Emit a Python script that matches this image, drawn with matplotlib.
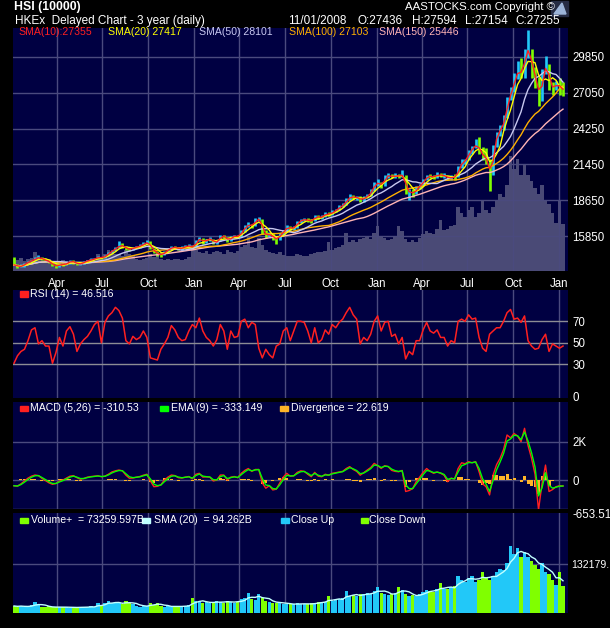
import numpy as np
import pandas as pd
import matplotlib
matplotlib.use('Agg')
import matplotlib.pyplot as plt
import matplotlib.dates as mdates
from matplotlib.patches import Rectangle, Polygon

plt.rcParams['font.family'] = ['Liberation Sans', 'DejaVu Sans']

# weekly samples of the 3 year daily chart (week ending Friday)
weeks = pd.date_range('2005-01-07', '2008-01-11', freq='W-FRI')

close = [13600, 13450, 13500, 13700, 13850, 13950, 14100, 14200, 14000, 13950, 13800, 13550,
         13500, 13650, 13600, 13750, 13900, 13800, 13650, 13700, 13850, 13950, 14000, 14100,
         14200, 14150, 14300, 14550, 14750, 14900, 15150, 15050, 14850, 14800, 14950, 15000,
         15100, 15250, 15400, 14900, 14600, 14450, 14350, 14650, 14800, 15000, 14950, 14850,
         14950, 15050, 15100, 14900,
         15500, 15650, 15350, 15600, 15650, 15300, 15450, 15900, 15800, 15450, 15800, 15850,
         15800, 16250, 16600, 16750, 16650, 17150, 17200, 16150, 15850, 16050, 15650, 15600,
         16000, 16250, 16600, 16400, 16550, 16950, 17100, 17150, 17050, 17000, 17450, 17250,
         17400, 17600, 17550, 17750, 17900, 18150, 18300, 18700, 18950, 18850, 18900, 18600,
         18900, 18950, 19400, 19950,
         20000, 19800, 20500, 20600, 20450, 20600, 20500, 20700, 19300, 19350, 19100, 19650,
         19800, 20200, 20550, 20500, 20450, 20700, 20550, 20600, 20300, 20500, 20400, 21200,
         21700, 21750, 22500, 22700, 23100, 22400, 22100, 21800, 20400, 22900, 23950, 24200,
         25000, 26500, 27150, 28200, 28900, 28400, 30300, 30400, 28800, 28100, 26500, 28600,
         29300, 27600, 27400, 27800, 27400, 27255]

high = [14250, 13700, 13650, 13780, 13900, 14000, 14180, 14350, 14250, 14100, 14000, 13820,
        13650, 13720, 13750, 13800, 13950, 13950, 13850, 13780, 13900, 14000, 14100, 14150,
        14300, 14250, 14350, 14600, 14800, 15000, 15500, 15300, 15100, 14950, 15000, 15100,
        15200, 15350, 15550, 15450, 14950, 14700, 14500, 14700, 14900, 15100, 15100, 15000,
        15050, 15150, 15200, 15100,
        15550, 15750, 15700, 15650, 15800, 15650, 15550, 15950, 15950, 15800, 15850, 15950,
        15900, 16350, 16700, 16950, 16800, 17250, 17350, 17200, 16300, 16200, 16100, 15750,
        16100, 16350, 16700, 16650, 16650, 17000, 17200, 17300, 17250, 17150, 17500, 17500,
        17500, 17700, 17700, 17850, 18000, 18250, 18400, 18800, 19100, 19050, 19000, 18950,
        19000, 19100, 19500, 20050,
        20300, 20100, 20600, 20800, 20700, 20750, 20700, 21000, 20600, 19500, 19500, 19750,
        19900, 20300, 20650, 20700, 20600, 20850, 20800, 20750, 20650, 20600, 20700, 21300,
        21900, 21900, 22600, 22900, 23400, 23600, 22800, 22700, 21900, 23000, 24000, 24500,
        25300, 26700, 27500, 28600, 29500, 29800, 30500, 31950, 30500, 29100, 28300, 28900,
        29900, 29300, 27900, 28000, 28200, 27900]

low = [13550, 13350, 13400, 13450, 13650, 13800, 13900, 14050, 13950, 13850, 13750, 13500,
       13350, 13450, 13500, 13550, 13700, 13700, 13600, 13600, 13650, 13800, 13900, 13950,
       14050, 14050, 14100, 14280, 14500, 14700, 14900, 14950, 14750, 14700, 14750, 14900,
       14950, 15050, 15200, 14850, 14500, 14300, 14200, 14350, 14600, 14800, 14850, 14750,
       14800, 14900, 14950, 14850,
       14900, 15450, 15250, 15300, 15500, 15250, 15250, 15450, 15700, 15400, 15450, 15700,
       15700, 15800, 16200, 16550, 16500, 16650, 17000, 16000, 15700, 15750, 15550, 15200,
       15550, 15950, 16250, 16300, 16300, 16500, 16900, 17000, 16950, 16900, 17000, 17150,
       17200, 17350, 17450, 17500, 17700, 17900, 18100, 18300, 18700, 18750, 18700, 18500,
       18550, 18800, 18950, 19400,
       19800, 19600, 19800, 20400, 20350, 20400, 20350, 20500, 19100, 18700, 18900, 19150,
       19550, 19800, 20200, 20400, 20300, 20400, 20450, 20400, 20200, 20200, 20200, 20450,
       21200, 21500, 21800, 22300, 22700, 22300, 21800, 21500, 19400, 20600, 22800, 23700,
       24100, 25100, 26500, 27100, 28100, 28200, 28200, 29800, 28200, 27400, 26000, 26400,
       28500, 27300, 26900, 27300, 26900, 26800]

rsi = [31, 38, 42, 44, 52, 62, 64, 49, 52, 47, 47, 31, 41, 55, 47, 61, 65, 58, 42, 49,
       53, 56, 61, 67, 70, 50, 69, 75, 78, 83, 80, 73, 52, 49, 56, 53, 55, 61, 55, 36,
       35, 34, 44, 49, 55, 66, 62, 55, 52, 53, 61, 67,
       64, 73, 61, 55, 52, 47, 53, 67, 61, 44, 61, 55, 56, 70, 72, 64, 69, 67, 45, 36,
       44, 39, 36, 47, 49, 61, 64, 52, 61, 70, 70, 69, 61, 50, 64, 50, 53, 62, 58, 67,
       64, 69, 72, 78, 83, 76, 72, 49, 55, 52, 58, 70, 75, 61,
       69, 70, 56, 58, 49, 55, 35, 42, 39, 52, 52, 62, 69, 61, 59, 62, 55, 55, 47, 52,
       50, 70, 72, 70, 76, 72, 73, 55, 45, 42, 58, 61, 64, 64, 70, 78, 81, 72, 73, 69,
       75, 52, 47, 44, 45, 53, 58, 42, 49, 47, 45, 47]

macd = [-300, -320, -200, -50, 100, 200, 260, 230, 80, -30, -150,
        -226, -180, -60, 0, 100, 200, 226, 120, 40, 80, 150, 180, 200, 220,
        170, 200, 300, 420, 480, 520, 480, 250, 90, 100, 150, 180, 250, 300, -50,
        -350, -330, -250, 0, 150, 260, 230, 120, 100, 150, 180, 60, 300,
        350, 150, 160, 150, -50, 0, 260, 260, 0, 150, 180, 120, 350, 500,
        600, 450, 550, 550, -150, -430, -300, -520, -480, -150, 150, 350, 200, 220,
        400, 480, 450, 300, 170, 400, 200, 170, 300, 250, 350, 380, 420, 450,
        600, 700, 550, 450, 250, 380, 520, 650, 870, 750, 600, 750, 700, 500,
        450, 430, 500, -600, -550, -450, -90, 150, 400, 600, 450, 350, 420, 350,
        250, -90, 100, 50, 600, 900, 850, 960, 900, 960, 430, -200, -350, -780,
        260, 800, 1130, 1600, 2350, 2200, 2430, 2300, 2000, 2700, 1800, 1130, 300, -1560,
        -200, 780, -600, -500, -350, -300, -310.53]

volume = [19000, 17000, 20000, 16000, 18000, 21000, 30000, 22000, 17000, 16000, 18000, 15000,
          15000, 16000, 17000, 15000, 14000, 16000, 15000, 16000, 15000, 17000, 18000, 16000,
          27000, 20000, 26000, 33000, 28000, 26000, 27000, 24000, 33000, 27000, 25000,
          18000, 17000, 19000, 20000, 26000, 22000, 27000, 19000, 17000,
          18000, 17000, 19000, 18000, 17000, 19000, 22000, 40000,
          33000, 30000, 28000, 31000, 26000, 29000, 32000, 30000, 27000, 33000, 30000, 28000, 31000,
          37000, 40000, 55000, 38000, 36000, 52000, 40000, 33000, 30000, 28000, 27000, 29000,
          25000, 24000, 23000, 24000, 26000, 25000, 24000, 23000, 26000,
          28000, 30000, 29000, 31000, 45000, 33000, 36000, 38000, 40000,
          60000, 45000, 48000, 46000, 50000, 52000, 55000, 50000, 60000, 70000, 55000,
          52000, 48000, 50000, 55000, 70000, 62000, 50000, 46000, 48000, 45000, 52000,
          58000, 62000, 60000, 58000, 66000, 80000,
          64000, 66000, 70000, 72000, 100000, 90000, 85000,
          95000, 100000, 85000, 90000, 110000, 95000,
          90000, 100000, 110000, 120000, 115000, 135000,
          180000, 160000, 175000, 150000, 165000, 150000,
          140000, 130000, 120000, 135000, 110000, 105000,
          90000, 75000, 110000, 73000]

price_ticks = [15850, 18650, 21450, 24250, 27050, 29850]

BG = '#000042'
GRID = '#4a4a7e'
LEVEL = '#8c8c94'
UP = '#22c8f8'
DOWN = '#80ff00'
W, H = 610, 628

c = pd.Series(close, dtype=float)
prev = c.shift(1).fillna(14230)
bar_col = [UP if a >= b else DOWN for a, b in zip(c, prev)]
xs = weeks - pd.Timedelta(days=2)

sma = {}
for n, col in [(2, '#ff2020'), (4, '#ffff00'), (10, '#c8c8f0'), (20, '#ffb000'), (30, '#ffb4b4')]:
    sma[n] = (c.rolling(n, min_periods=1).mean(), col)

# EMA(9) of the MACD, 9 trading days is about two weeks here
m = pd.Series(macd, dtype=float)
signal = m.ewm(alpha=1 - 0.8 ** 5, adjust=False).mean()
diverg = m - signal
vol_sma = pd.Series(volume, dtype=float).rolling(4, min_periods=1).mean()

fig = plt.figure(figsize=(W / 100, H / 100), dpi=100, facecolor='black')


def panel(top, bottom):
    a = fig.add_axes([13 / W, 1 - bottom / H, (568 - 13) / W, (bottom - top) / H])
    a.set_facecolor(BG)
    for s in a.spines.values():
        s.set_visible(False)
    a.set_xlim(pd.Timestamp('2005-01-03'), pd.Timestamp('2008-01-19'))
    a.xaxis.set_major_locator(mdates.MonthLocator(bymonth=[1, 4, 7, 10]))
    a.xaxis.set_major_formatter(mdates.DateFormatter('%b'))
    a.grid(True, axis='x', color=GRID, lw=1.0)
    a.yaxis.tick_right()
    a.tick_params(colors='white', labelsize=8.3, length=0, pad=3)
    a.tick_params(axis='x', labelbottom=False)
    a.set_axisbelow(True)
    return a


def ftext(x, y, s, **kw):
    kw.setdefault('color', 'white')
    kw.setdefault('fontsize', 7.6)
    fig.text(x / W, 1 - y / H, s, va='center', ha='left', **kw)


def swatch(x, y, col):
    fig.add_artist(Rectangle((x / W, 1 - (y + 2.5) / H), 8 / W, 5 / H,
                             transform=fig.transFigure, color=col))


# main price panel with volume shading behind it
ax_vol_bg = panel(28, 271)
ax_vol_bg.bar(xs, volume, width=7, color='#4a4a76', linewidth=0)
ax_vol_bg.set_ylim(0, 380000)
ax_vol_bg.set_yticks([])
ax_vol_bg.grid(False)

ax = fig.add_axes(ax_vol_bg.get_position(), sharex=ax_vol_bg)
ax.patch.set_visible(False)
for s in ax.spines.values():
    s.set_visible(False)
ax.yaxis.tick_right()
ax.grid(True, color=GRID, lw=1.0)
ax.set_axisbelow(True)
ax.tick_params(colors='white', labelsize=8.3, length=0, pad=3)
ax.tick_params(axis='x', pad=5)
ax.vlines(xs, low, high, colors=bar_col, lw=1.9)
for n in [30, 20, 10, 4, 2]:
    vals, col = sma[n]
    ax.plot(xs, vals, color=col, lw=1.0)
ax.set_ylim(13120, 32110)
ax.set_yticks(price_ticks)
ax.set_yticklabels([str(v) for v in price_ticks])

# RSI
ax_rsi = panel(290, 398)
ax_rsi.plot(xs, rsi, color='#ff2020', lw=1.1)
for lev in [30, 50, 70]:
    ax_rsi.axhline(lev, color=LEVEL, lw=1.0, zorder=1)
ax_rsi.set_ylim(-1.3, 99.1)
ax_rsi.set_yticks([0, 30, 50, 70])

# MACD
ax_m = panel(402, 509)
ax_m.bar(xs, diverg, width=6, color='#ffb428', linewidth=0)
ax_m.plot(xs, m, color='#ff2020', lw=1.0)
ax_m.plot(xs, signal, color='#00ff00', lw=1.0)
ax_m.set_ylim(-1514, 4073)
ax_m.set_yticks([-1514, 0, 2000])
ax_m.set_yticklabels(['-653.51', '0', '2K'])
ax_m.grid(True, axis='y', color=GRID, lw=1.0)
ax_m.yaxis.get_major_ticks()[0].label2.set_va('top')

# volume
ax_v = panel(513, 613)
ax_v.bar(xs, volume, width=6.6, color=bar_col, linewidth=0)
ax_v.plot(xs, vol_sma, color='#c0ffff', lw=1.0)
ax_v.set_ylim(0, 270000)
ax_v.set_yticks([132179])
ax_v.set_yticklabels(['132179.'])
ax_v.tick_params(axis='y', labelsize=7.6, pad=2)
ax_v.grid(True, axis='y', color=GRID, lw=1.0)

# header texts
ftext(14, 7, 'HSI (10000)', fontsize=8.8, fontweight='bold')
ftext(15, 21, 'HKEx  Delayed Chart - 3 year (daily)', fontsize=8.5)
ftext(405, 6.5, 'AASTOCKS.com Copyright \u00a9', fontsize=8.2)
for x, s in [(288, '11/01/2008'), (358, 'O:27436'), (412, 'H:27594'), (465, 'L:27154'), (515, 'C:27255')]:
    ftext(x, 21, s, fontsize=8.5)
fig.add_artist(Rectangle((551 / W, 1 - 16 / H), 17 / W, 15 / H, transform=fig.transFigure, color='#262c44'))
fig.add_artist(Polygon([[554 / W, 1 - 14 / H], [562 / W, 1 - 3 / H], [566 / W, 1 - 14 / H]],
                       transform=fig.transFigure, color='#9cb4d8'))

# legends
for x, s, n in [(18.7, 'SMA(10):27355', 2), (108, 'SMA(20) 27417', 4), (199, 'SMA(50) 28101', 10),
                (289, 'SMA(100) 27103', 20), (379, 'SMA(150) 25446', 30)]:
    ftext(x, 32, s, color=sma[n][1])

swatch(20, 294, '#ff2020')
ftext(30.5, 294, 'RSI (14) = 46.516')

swatch(19.5, 408, '#ff2020')
ftext(30.4, 408, 'MACD (5,26) = -310.53')
swatch(160, 408, '#00ff00')
ftext(171, 408, 'EMA (9) = -333.149')
swatch(280, 408, '#ffb428')
ftext(290.6, 408, 'Divergence = 22.619')

ftext(30.7, 520, 'Volume+  = 73259.597B')
swatch(20, 520, DOWN)
swatch(142, 520, '#c0ffff')
ftext(154, 520, 'SMA (20)  = 94.262B')
swatch(281, 520, UP)
ftext(290.7, 520, 'Close Up')
swatch(360.5, 520, DOWN)
ftext(369, 520, 'Close Down')

fig.savefig('out.png', dpi=100, facecolor='black')
